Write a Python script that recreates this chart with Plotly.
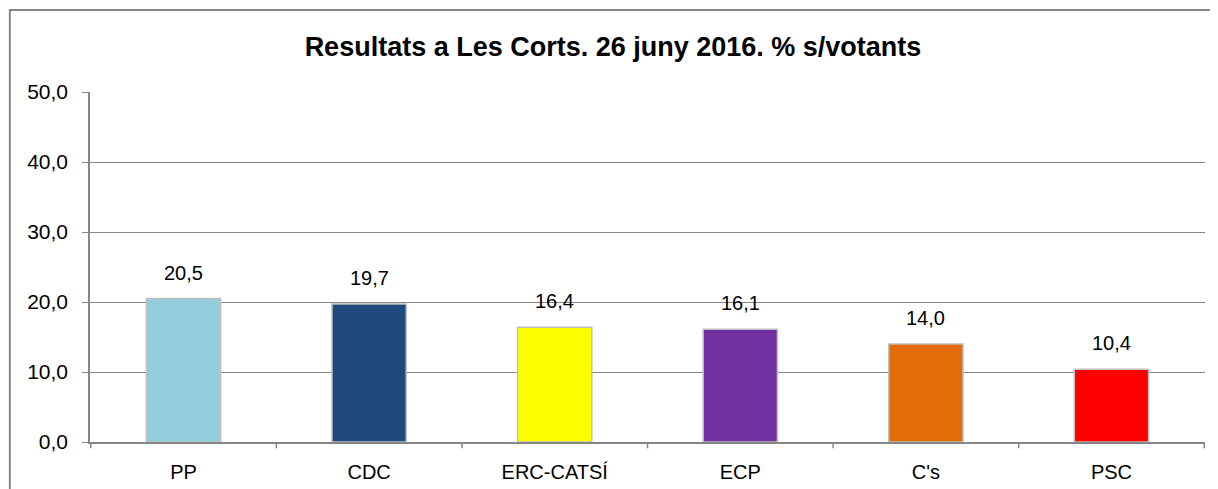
import plotly.graph_objects as go

parties = ["PP", "CDC", "ERC-CATSÍ", "ECP", "C's", "PSC"]
values = [20.5, 19.7, 16.4, 16.1, 14.0, 10.4]
colors = ["#92CDDC", "#1F497D", "#FFFF00", "#7030A0", "#E36C09", "#FF0000"]
y_ticks = [0, 10, 20, 30, 40, 50]

FONT = "Liberation Sans, Arial, sans-serif"

fig = go.Figure()
fig.add_trace(go.Bar(
    x=parties, y=values,
    marker=dict(color=colors, line=dict(color="#BFBFBF", width=1.5)),
    width=0.4,
    hoverinfo="skip",
))

for p, v in zip(parties, values):
    fig.add_annotation(x=p, y=v, text=f"{v:.1f}".replace(".", ","),
                       showarrow=False, yanchor="bottom", yshift=13,
                       font=dict(family=FONT, size=20, color="#000000"))

fig.add_shape(type="rect", xref="paper", yref="paper",
              x0=-0.0719, x1=1.2, y0=-0.3, y1=1.234,
              line=dict(color="#868686", width=2), fillcolor="rgba(0,0,0,0)")

fig.update_layout(
    width=1210, height=481,
    margin=dict(l=82, r=13, t=84, b=47, autoexpand=False),
    paper_bgcolor="white", plot_bgcolor="white",
    separators=",.",
    showlegend=False,
    title=dict(text="<b>Resultats a Les Corts. 26 juny 2016. % s/votants</b>",
               x=0.5, xanchor="center", y=1 - 39 / 481, yanchor="middle",
               font=dict(family=FONT, size=27, color="#000000")),
    font=dict(family=FONT, size=20, color="#000000"),
    xaxis=dict(
        showgrid=False, showline=True, linecolor="#868686", linewidth=1.5,
        ticks="", tickfont=dict(size=20), ticklabelstandoff=11,
        automargin=False,
    ),
    yaxis=dict(
        range=[0, 50], tickvals=y_ticks, tickformat=".1f",
        showgrid=True, gridcolor="#868686", gridwidth=1,
        showline=True, linecolor="#868686", linewidth=1.5,
        ticks="outside", ticklen=6, tickcolor="#868686",
        zeroline=False, tickfont=dict(size=21), ticklabelstandoff=10,
        automargin=False,
    ),
)

# category boundary ticks on x axis
for i in range(len(parties) + 1):
    fig.add_shape(type="line", xref="x", yref="paper",
                  x0=i - 0.5, x1=i - 0.5, y0=0, y1=-0.018,
                  line=dict(color="#868686", width=1.5))

fig.write_html("out.html")
